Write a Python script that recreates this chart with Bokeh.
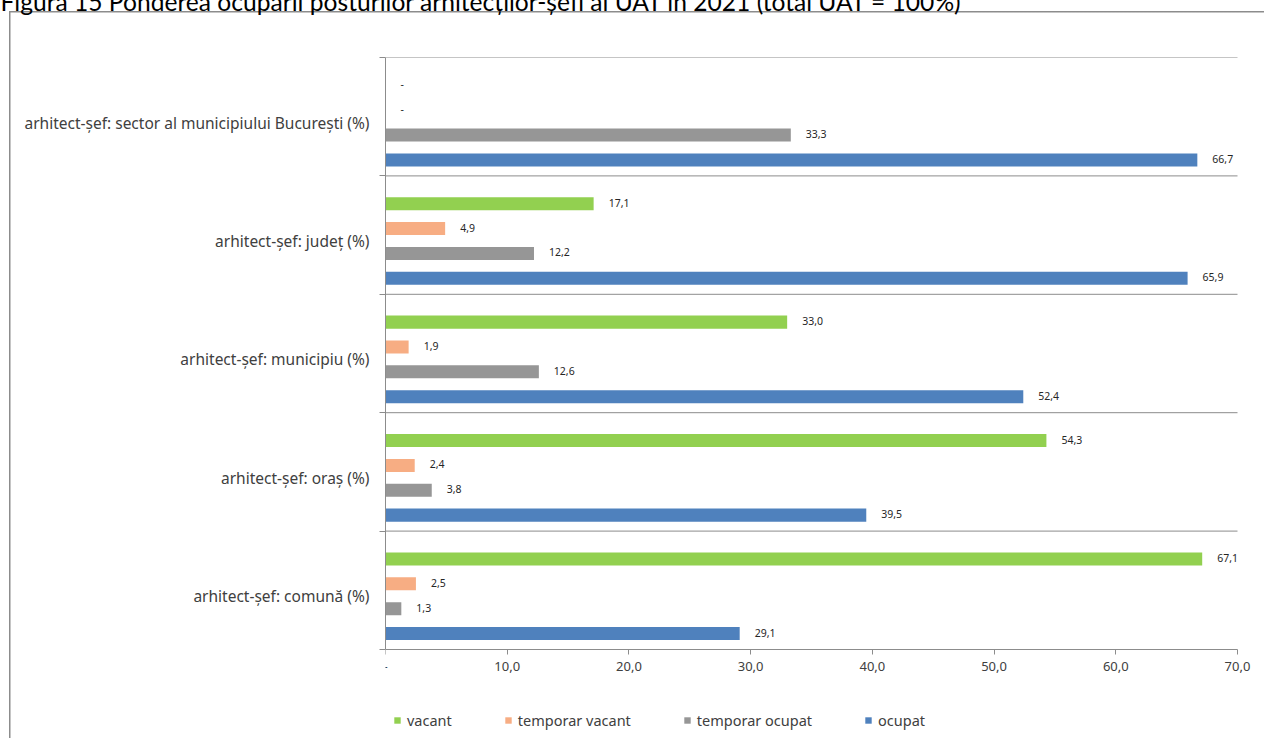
from bokeh.plotting import figure
from bokeh.models import (ColumnDataSource, FixedTicker, Legend, LegendItem,
                          LabelSet, Title)
from bokeh.core.properties import value
from bokeh.embed import file_html
from bokeh.resources import INLINE

# ---- data ----
categories = ["arhitect-șef: comună (%)", "arhitect-șef: oraș (%)",
              "arhitect-șef: municipiu (%)", "arhitect-șef: județ (%)",
              "arhitect-șef: sector al municipiului București (%)"]
series = ["ocupat", "temporar ocupat", "temporar vacant", "vacant"]
ocupat = [29.1, 39.5, 52.4, 65.9, 66.7]
temporar_ocupat = [1.3, 3.8, 12.6, 12.2, 33.3]
temporar_vacant = [2.5, 2.4, 1.9, 4.9, 0.0]
vacant = [67.1, 54.3, 33.0, 17.1, 0.0]
x_ticks = [0, 10, 20, 30, 40, 50, 60, 70]
x_tick_labels = ["-", "10,0", "20,0", "30,0", "40,0", "50,0", "60,0", "70,0"]
title_text = "Figura 15 Ponderea ocupării posturilor arhitecților-șefi ai UAT în 2021 (total UAT = 100%)"

colors = {"ocupat": "#4F81BD", "temporar ocupat": "#969696",
          "temporar vacant": "#F7AD83", "vacant": "#92D050"}
offsets = {"ocupat": 0.135, "temporar ocupat": 0.345,
           "temporar vacant": 0.555, "vacant": 0.765}
values = {"ocupat": ocupat, "temporar ocupat": temporar_ocupat,
          "temporar vacant": temporar_vacant, "vacant": vacant}

TXT = "#404040"
FONT = "Noto Sans"
SHIFT = 70          # canvas is moved up by this many px so the title is cut at the top
BAND_PX = 592 / 5   # pixel height of one category band
BOTTOM_PX = 89      # room under the category axis for tick labels and legend
AXIS_PX = 852       # pixel width of the 0..70 value axis
RIGHT_PX = 27       # room right of the axis end for the last labels
X_MAX = x_ticks[-1]

p = figure(frame_width=AXIS_PX + RIGHT_PX, frame_height=592 + BOTTOM_PX,
           x_range=(0, X_MAX * (AXIS_PX + RIGHT_PX) / AXIS_PX),
           y_range=(-BOTTOM_PX / BAND_PX, 5),
           output_backend="svg", toolbar_location=None,
           min_border_left=385, min_border_right=0, min_border_top=57 + SHIFT,
           min_border_bottom=0)
p.margin = (-SHIFT, 0, 0, 0)
line = "linear-gradient(#8C8C8C, #8C8C8C)"
p.styles = {
    "margin-top": f"-{SHIFT}px",
    "background": (f"{line} 9px {11 + SHIFT}px / 1.5px 100% no-repeat, "
                   f"{line} 9px {11 + SHIFT}px / 100% 1.5px no-repeat, #ffffff"),
}
p.outline_line_color = None
p.xgrid.visible = False
p.ygrid.visible = False
p.background_fill_color = "white"
p.border_fill_color = None

# separator lines at category boundaries (ending at the axis maximum)
bounds_y = list(range(1, len(categories) + 1))
p.segment(x0=[0] * len(bounds_y), x1=[X_MAX] * len(bounds_y), y0=bounds_y, y1=bounds_y,
          line_color="#8C8C8C", line_width=1)

legend_items = []
for s in series:
    ys = [i + offsets[s] for i in range(len(categories))]
    labels = ["-" if v == 0 else f"{v:.1f}".replace(".", ",") for v in values[s]]
    src = ColumnDataSource(dict(y=ys, right=values[s], lab=labels))
    r = p.hbar(y="y", left=0, right="right", height=0.11, source=src,
               fill_color=colors[s], line_color=None)
    legend_items.append((s, r))
    p.add_layout(LabelSet(x="right", y="y", text="lab", source=src,
                          x_offset=15, y_offset=1, text_font=value(FONT),
                          text_font_size="10.5px", text_color="#262626",
                          text_baseline="middle"))

# value axis, drawn at the bottom of the category area
xa = p.xaxis[0]
xa.fixed_location = 0
xa.bounds = (0, X_MAX)
xa.ticker = FixedTicker(ticks=x_ticks)
xa.major_label_overrides = {t: l for t, l in zip(x_ticks, x_tick_labels)}
xa.major_label_text_font = FONT
xa.major_label_text_font_size = "13px"
xa.major_label_text_color = TXT
xa.axis_line_color = "#8C8C8C"
xa.major_tick_line_color = "#8C8C8C"
xa.major_tick_in = 0
xa.major_tick_out = 5
xa.minor_tick_line_color = None
xa.major_label_standoff = 7

# category axis
ya = p.yaxis[0]
ya.bounds = (0, 5)
centers = [i + 0.45 for i in range(len(categories))]
ya.ticker = FixedTicker(ticks=centers, minor_ticks=[0, 1, 2, 3, 4, 5])
ya.major_label_overrides = {c: l for c, l in zip(centers, categories)}
ya.major_label_text_font = FONT
ya.major_label_text_font_size = "15.5px"
ya.major_label_text_color = TXT
ya.axis_line_color = "#8C8C8C"
ya.major_tick_line_color = None
ya.minor_tick_line_color = "#8C8C8C"
ya.minor_tick_in = 0
ya.minor_tick_out = 6
ya.major_label_standoff = 10

# legend (display order)
order = ["vacant", "temporar vacant", "temporar ocupat", "ocupat"]
rmap = dict(legend_items)
legend = Legend(items=[LegendItem(label=s, renderers=[rmap[s]]) for s in order],
                orientation="horizontal", location="bottom_left",
                glyph_width=8, glyph_height=8, label_standoff=6, spacing=52,
                padding=0, margin=8, border_line_color=None,
                background_fill_alpha=0, label_text_font=FONT,
                label_text_font_size="14.5px", label_text_color=TXT)
p.add_layout(legend, "center")

# title (the reference shows it cut off at the top)
p.add_layout(Title(text=title_text, text_font="Lato", text_font_size="24.6px",
                   text_font_style="normal", text_color="#000000",
                   align="left", offset=-385, standoff=84,
                   vertical_align="bottom"), "above")

open("out.html", "w").write(file_html(p, INLINE))
